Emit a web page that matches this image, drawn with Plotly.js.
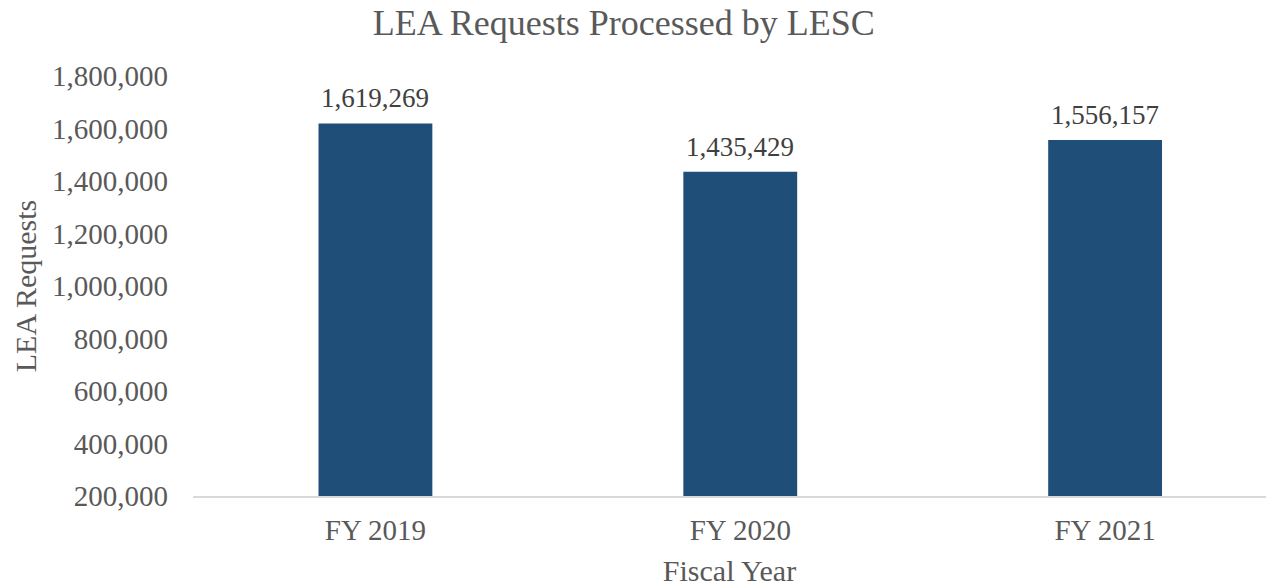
<!DOCTYPE html>
<html>
<head>
<meta charset="utf-8">
<script src="https://cdn.plot.ly/plotly-3.0.1.min.js"></script>
<style>html,body{margin:0;padding:0;background:#fff;}#chart{width:1268px;height:587px;}</style>
</head>
<body>
<div id="chart"></div>
<script>
const categories = ["FY 2019", "FY 2020", "FY 2021"];
const requests = [1619269, 1435429, 1556157];
const yTickVals = [200000, 400000, 600000, 800000, 1000000, 1200000, 1400000, 1600000, 1800000];

const fmt = v => v.toLocaleString("en-US");
const FONT = "Liberation Serif, Times New Roman, serif";

const trace = {
  type: "bar",
  x: categories,
  y: requests,
  width: 0.312,
  marker: {color: "#1f4e79"},
  hoverinfo: "x+y"
};

const annotations = categories.map((c, i) => ({
  x: c, y: requests[i], xref: "x", yref: "y",
  text: fmt(requests[i]), showarrow: false,
  yanchor: "bottom", yshift: 8,
  font: {family: FONT, size: 27, color: "#404040"}
}));

const layout = {
  width: 1268, height: 587,
  margin: {l: 193, r: 2, t: 76, b: 91},
  paper_bgcolor: "#ffffff", plot_bgcolor: "#ffffff",
  title: {text: "LEA Requests Processed by LESC", x: 0.492, xref: "container", xanchor: "center",
          y: 1 - 22/587, yref: "container", yanchor: "middle",
          font: {family: FONT, size: 36, color: "#595959"}},
  xaxis: {
    type: "category", range: [-0.5, 2.441],
    showgrid: false, zeroline: false,
    showline: true, linecolor: "#d9d9d9", linewidth: 1.5,
    ticks: "", ticklabelstandoff: 8,
    tickfont: {family: FONT, size: 29, color: "#595959"},
    title: {text: "Fiscal Year", standoff: 15, font: {family: FONT, size: 30, color: "#595959"}}
  },
  yaxis: {
    range: [200000, 1800000],
    tickvals: yTickVals, ticktext: yTickVals.map(fmt),
    showgrid: false, zeroline: false, showline: false,
    ticks: "", ticklabelstandoff: 24,
    tickfont: {family: FONT, size: 29, color: "#595959"},
    title: {text: "LEA Requests", standoff: 6, font: {family: FONT, size: 30, color: "#595959"}}
  },
  annotations: annotations,
  showlegend: false
};

Plotly.newPlot("chart", [trace], layout, {displayModeBar: false, staticPlot: true});
</script>
</body>
</html>
